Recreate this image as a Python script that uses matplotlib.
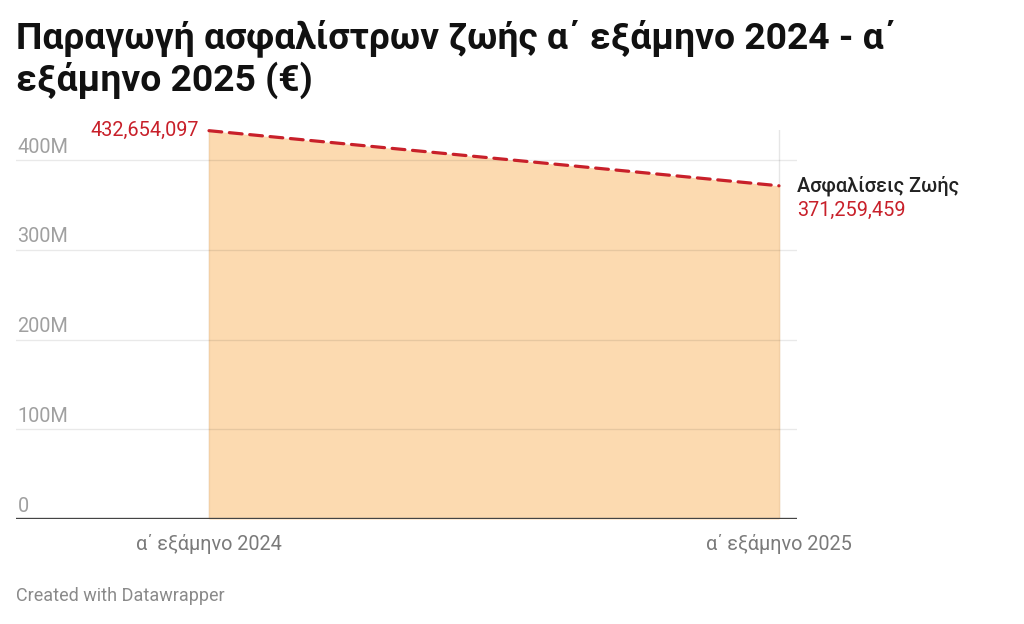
import matplotlib
matplotlib.use("Agg")
import matplotlib.pyplot as plt

categories = ["α΄ εξάμηνο 2024", "α΄ εξάμηνο 2025"]
values = [432654097, 371259459]
series_name = "Ασφαλίσεις Ζωής"
yticks = [0, 100e6, 200e6, 300e6, 400e6]
ytick_labels = ["0", "100M", "200M", "300M", "400M"]
title = "Παραγωγή ασφαλίστρων ζωής α΄ εξάμηνο 2024 - α΄\nεξάμηνο 2025 (€)"

plt.rcParams['font.family'] = ['Roboto', 'DejaVu Sans']

W, H = 1024, 624
fig = plt.figure(figsize=(W / 100, H / 100), dpi=100)

ax_l, ax_r, ax_b, ax_t = 16, 797, 519, 130
ax = fig.add_axes([ax_l / W, 1 - ax_b / H, (ax_r - ax_l) / W, (ax_b - ax_t) / H])

x = list(range(len(categories)))
px_per_unit = 779 - 209
ax.set_xlim(-(209 - ax_l) / px_per_unit, 1 + (ax_r - 779) / px_per_unit)
px_per_100m = (519 - 160) / 4
ax.set_ylim(0, (ax_b - ax_t) / px_per_100m * 100e6)

red = "#c8202a"
ax.fill_between(x, values, 0, color="#fcdab0", lw=0, zorder=1)
for xi, vi in zip(x, values):
    ax.plot([xi, xi], [0, vi], color="#f3d0a6", lw=1, zorder=1.5)
ax.plot(x, values, color=red, lw=2.3, ls=(0, (4.0, 2.4)), zorder=3, clip_on=False,
        dash_capstyle="round")

# grid
for yt in yticks[1:]:
    ax.axhline(yt, color="black", alpha=0.085, lw=1, zorder=2)
for xi in x:
    ax.axvline(xi, color="#e6e6e6", lw=1, zorder=0.5)
ax.axhline(0, color="#444444", lw=2.4, zorder=4)

for s in ax.spines.values():
    s.set_visible(False)
ax.set_xticks([])
ax.set_yticks([])

fs = 14.3
for yt, lab in zip(yticks, ytick_labels):
    ax.annotate(lab, xy=(0, yt), xycoords=("axes fraction", "data"),
                xytext=(1, 2.5), textcoords="offset points",
                ha="left", va="bottom", fontsize=fs, color="#a0a0a0")

for xi, lab in zip(x, categories):
    ax.annotate(lab, xy=(xi, 0), xycoords="data", xytext=(0, -11),
                textcoords="offset points", ha="center", va="top",
                fontsize=fs, color="#7a7a7a")

# value labels
ax.annotate(f"{values[0]:,}", xy=(x[0], values[0]), xytext=(-7, 0),
            textcoords="offset points", ha="right", va="center",
            fontsize=fs, color=red, annotation_clip=False)
ax.annotate(series_name, xy=(x[1], values[1]), xytext=(13, 0),
            textcoords="offset points", ha="left", va="center",
            fontsize=fs, color="#222222", fontweight="medium", annotation_clip=False)
ax.annotate(f"{values[1]:,}", xy=(x[1], values[1]), xytext=(13, -17.5),
            textcoords="offset points", ha="left", va="center",
            fontsize=fs, color=red, annotation_clip=False)

fig.text(16 / W, 1 - 19 / H, title, ha="left", va="top", fontsize=26.8,
         fontweight="bold", color="#111111", linespacing=1.15)
fig.text(16 / W, 1 - 596 / H, "Created with Datawrapper", ha="left", va="center",
         fontsize=13, color="#8a8a8a")

fig.savefig("out.png", dpi=100, facecolor="white")
